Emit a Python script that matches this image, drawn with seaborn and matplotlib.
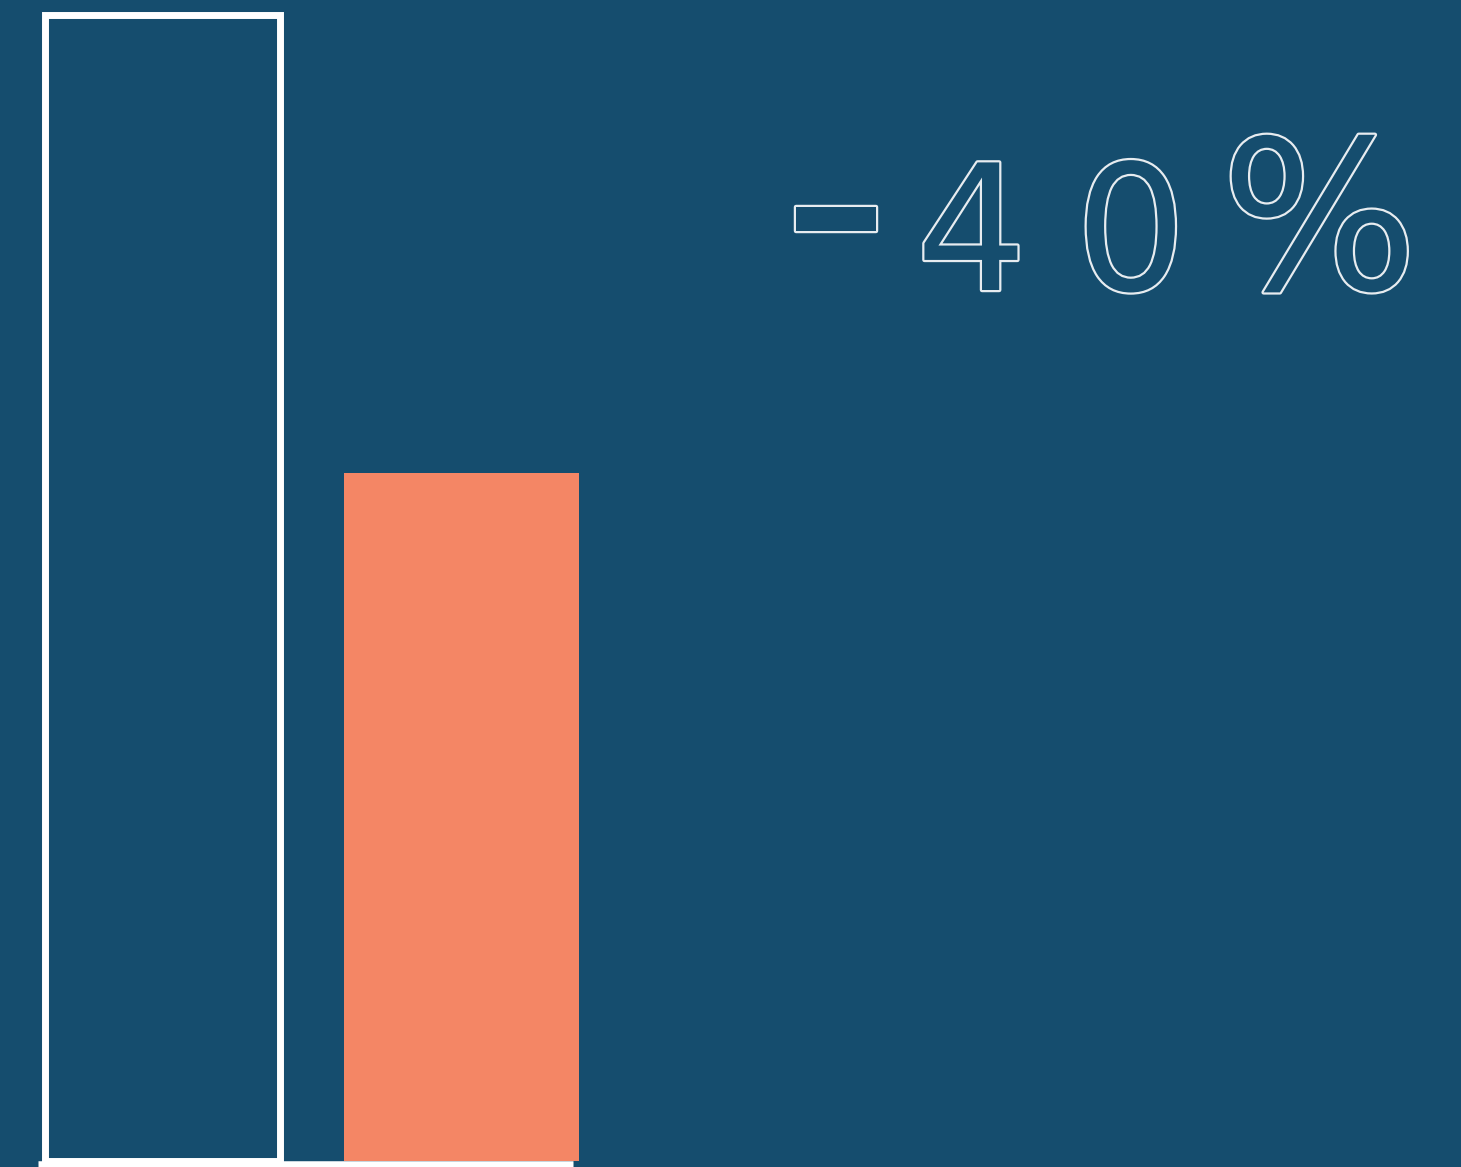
import matplotlib
matplotlib.use("Agg")
import matplotlib.pyplot as plt
import matplotlib.patheffects as pe
import seaborn as sns
import pandas as pd

# Data
categories = ["Before", "After"]
values = [100, 60]

BG = "#154D6E"
ORANGE = "#F48665"
WHITE = "#FFFFFF"

sns.set_theme(style="white")
plt.rcParams["font.family"] = ["DejaVu Sans"]

fig = plt.figure(figsize=(14.61, 11.67), dpi=100, facecolor=BG)
ax = fig.add_axes([0, 0, 1, 1])
ax.set_facecolor(BG)

df = pd.DataFrame({"category": categories, "value": values})
sns.barplot(data=df, x="category", y="value", hue="category",
            palette=[BG, ORANGE], width=0.786, legend=False,
            saturation=1, ax=ax)

# First bar: outlined in white, second bar: solid orange
bars = ax.patches
bars[0].set_facecolor(BG)
bars[0].set_edgecolor(WHITE)
bars[0].set_linewidth(5)
bars[1].set_facecolor(ORANGE)
bars[1].set_edgecolor(ORANGE)
bars[1].set_linewidth(0)

ax.set_xlim(-0.542, 4.344)
ax.set_ylim(-0.52, 101.27)

# White baseline under the bars
ax.plot([-0.415, 1.375], [-0.27, -0.27], color=WHITE, lw=4.7,
        solid_capstyle="butt", zorder=5)

ax.set_axis_off()

# Percentage change label, drawn as outlined characters with wide tracking
pct = round((values[1] - values[0]) / values[0] * 100)
label = f"{pct:d}%"
outline = [pe.Stroke(linewidth=3.2, foreground=WHITE, alpha=0.9), pe.Normal()]
# (x centre, baseline, font size) for each character
layout = [(0.572, 0.7404, 220), (0.665, 0.7515, 126),
          (0.774, 0.7515, 126), (0.903, 0.7520, 150)]
for ch, (cx, by, fs) in zip(label, layout):
    fig.text(cx, by, ch, ha="center", va="baseline",
             fontsize=fs, color=BG, path_effects=outline)

fig.savefig("out.png", dpi=100, facecolor=BG)
